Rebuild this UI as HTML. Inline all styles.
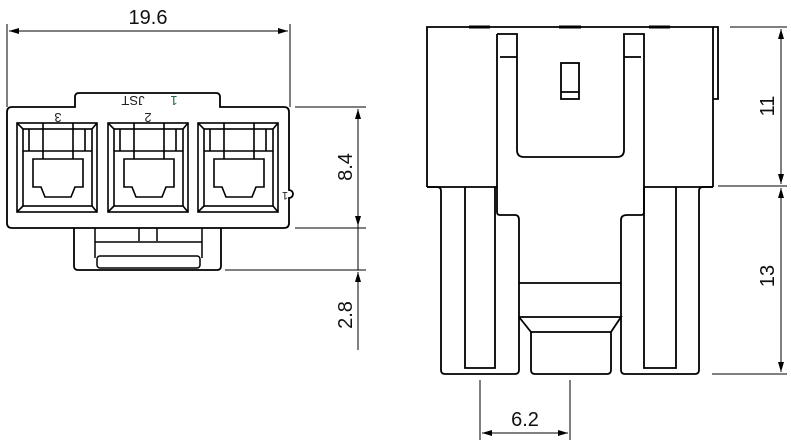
<!DOCTYPE html>
<html><head><meta charset="utf-8"><style>
html,body{margin:0;padding:0;background:#fff;}
svg{display:block;}
text{font-family:"Liberation Sans",sans-serif;}
</style></head><body>
<svg width="791" height="443" viewBox="0 0 791 443" xmlns="http://www.w3.org/2000/svg">
<defs>
<marker id="a" viewBox="0 0 10 6" refX="10" refY="3" markerWidth="10" markerHeight="6" orient="auto-start-reverse" markerUnits="userSpaceOnUse"><path d="M0,0L10,3L0,6z" fill="#000"/></marker>
<g id="cav" fill="none" stroke="#000" stroke-width="1.6">
<rect x="0" y="0" width="80" height="89"/>
<rect x="6" y="6" width="69" height="77"/>
<path d="M0,0L6,6M80,0L75,6M0,89L6,83M80,89L75,83"/>
<path d="M26,0V28M56,0V28M6,28H75M12,6V28M68,6V28"/>
<path d="M16,36H66V64H58L54,74H28L24,64H16Z"/>
<path d="M26,28V36M56,28V36"/>
</g>
</defs>
<g fill="none" stroke="#000">
<path stroke-width="1.8" d="M75,107V97Q75,93 79,93H216Q220,93 220,97V107H284Q289,107 289,112V190A4,4 0 0 1 289,198V223Q289,228 284,228H12Q7,228 7,223V112Q7,107 12,107Z"/>
<path stroke-width="1.8" d="M74,228V266Q74,270 78,270H217Q221,270 221,266V228"/>
<path stroke-width="1.5" d="M95,228V258M202,228V258M95,242H202M139,228V241M157,228V241"/>
<rect x="97" y="256" width="103" height="12" rx="3" stroke-width="1.5"/>
<use href="#cav" x="17" y="123"/>
<use href="#cav" x="108" y="123"/>
<use href="#cav" x="198" y="123"/>
<g stroke="#000" stroke-width="1">
<path d="M7,24V107M290,24V107"/>
<path d="M9,31H288" marker-start="url(#a)" marker-end="url(#a)"/>
<path d="M295,107H366M295,228H366M225,270H366"/>
<path d="M358,109V226" marker-start="url(#a)" marker-end="url(#a)"/>
<path d="M358,226V270"/>
<path d="M358,272V350" marker-start="url(#a)"/>
</g>
<g stroke-width="1.8">
<path d="M427,187V27H713V187"/>
<path d="M713,27H718V99H713"/>
<path d="M497,34H517V150Q517,157 524,157H617Q624,157 624,150V34H644V212Q644,215 641,215H627Q621,215 621,220V370Q621,374 625,374H695Q699,374 699,370V191Q699,187 703,187H713"/>
<path d="M497,34V212Q497,215 500,215H515Q519,215 519,220V370Q519,374 515,374H445Q441,374 441,370V191Q441,187 437,187H427"/>
<path d="M465,187V368H495V187M644,187V368H676V187M427,187H497M644,187H713"/>
<path d="M519,283H621M519,317H621L611,332H531L519,317M531,332V370Q531,374 535,374H607Q611,374 611,370V332"/>
<rect x="561" y="63" width="18" height="36"/>
<path d="M561,92H579M500,57H517M624,57H641"/>
</g>
<path stroke-width="3" d="M469,27H490M559,27H581M649,27H670"/>
<g stroke-width="1">
<path d="M730,27H787M718,186H787M712,374H787"/>
<path d="M781,29V184" marker-start="url(#a)" marker-end="url(#a)"/>
<path d="M781,188V372" marker-start="url(#a)" marker-end="url(#a)"/>
<path d="M480,380V440M570,380V440"/>
<path d="M482,433H568" marker-start="url(#a)" marker-end="url(#a)"/>
</g>
</g>
<g fill="#111" font-size="20">
<text x="148" y="24" text-anchor="middle">19.6</text>
<text transform="translate(352,167) rotate(-90)" text-anchor="middle">8.4</text>
<text transform="translate(352,315) rotate(-90)" text-anchor="middle">2.8</text>
<text transform="translate(774,106) rotate(-90)" text-anchor="middle">11</text>
<text transform="translate(774,276) rotate(-90)" text-anchor="middle">13</text>
<text x="525" y="426" text-anchor="middle">6.2</text>
</g>
<g fill="#222" font-size="13">
<text transform="translate(58,113) rotate(180)" text-anchor="middle">3</text>
<text transform="translate(148,113) rotate(180)" text-anchor="middle">2</text>
<text transform="translate(133,96) rotate(180)" text-anchor="middle">JST</text>
<text transform="translate(174,96) rotate(180)" text-anchor="middle" fill="#264">1</text>
<text transform="translate(285,192) rotate(180)" text-anchor="middle" font-size="11">1</text>
</g>
</svg>
</body></html>
